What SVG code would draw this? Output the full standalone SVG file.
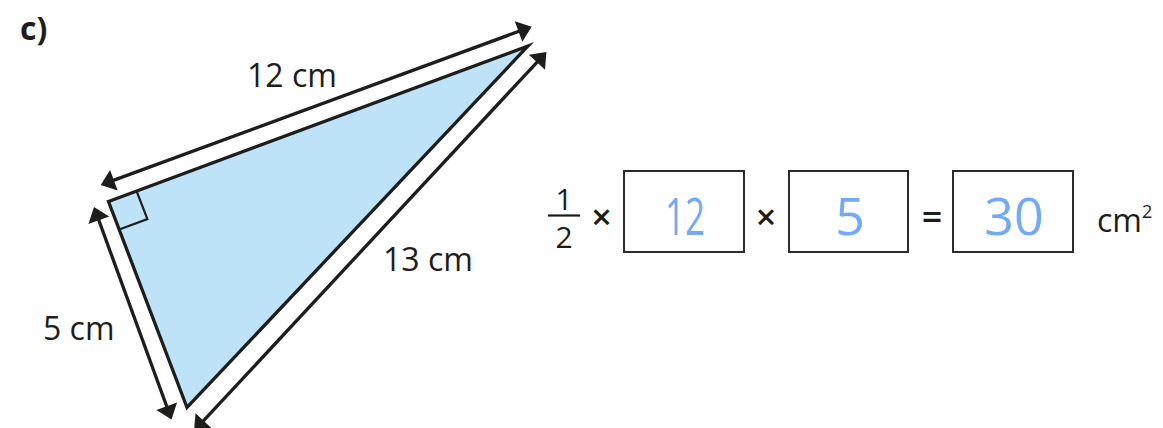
<svg xmlns="http://www.w3.org/2000/svg" width="1163" height="428" viewBox="0 0 1163 428">
<defs>
<style>
.lbl{font-family:"Open Sans","Noto Sans","DejaVu Sans",sans-serif;font-size:32px;fill:#1d1d1b}
.hand{font-family:"Open Sans","Noto Sans",sans-serif;font-size:52px;fill:#73aaf3;text-anchor:middle}
.dim{stroke:#1d1d1b;stroke-width:3.3;fill:none;marker-start:url(#ah);marker-end:url(#ah)}
.box{fill:#ffffff;stroke:#2b2b2b;stroke-width:2}
.op{font-family:"Open Sans","Noto Sans",sans-serif;font-size:30px;fill:#1d1d1b;text-anchor:middle}
.sym{font-family:"Open Sans","Noto Sans",sans-serif;font-size:36px;font-weight:600;fill:#1d1d1b;text-anchor:middle}
</style>
<marker id="ah" markerUnits="userSpaceOnUse" markerWidth="32" markerHeight="32" viewBox="-16 -16 32 32" refX="0" refY="0" orient="auto-start-reverse">
<path d="M12,0 L-2,-11 L-2,11 Z" fill="#1d1d1b"/>
</marker>
</defs>
<rect width="1163" height="428" fill="#ffffff"/>
<g id="title"><text x="20" y="40" font-family="'Open Sans','Noto Sans',sans-serif" font-weight="bold" font-size="32" fill="#1d1d1b">c)</text></g>
<g id="triangle">
<polygon points="108.5,201.5 528,46 187,407.5" fill="#bee3f8" stroke="#1d1d1b" stroke-width="3.3" stroke-linejoin="miter" stroke-miterlimit="10"/>
<polyline points="136.6,191.1 147.4,219.1 119.2,229.5" fill="none" stroke="#1d1d1b" stroke-width="2.2"/>
</g>
<g id="connectors">
<path class="dim" d="M112,180.9 L520.4,30.8"/>
<path class="dim" d="M98.1,218.3 L167.4,408.2"/>
<path class="dim" d="M538.3,60.8 L202.2,422.2"/>
</g>
<g id="labels">
<text class="lbl" x="247" y="87">12 cm</text>
<text class="lbl" x="383" y="271">13 cm</text>
<text class="lbl" x="43" y="340">5 cm</text>
</g>
<g id="equation">
<text class="op" x="564" y="210">1</text>
<line x1="548" y1="215.5" x2="580" y2="215.5" stroke="#1d1d1b" stroke-width="2.2"/>
<text class="op" x="564" y="248">2</text>
<text class="sym" x="601.5" y="230">×</text>
<rect class="box" x="624" y="171" width="120" height="81"/>
<text class="hand" x="685" y="235" textLength="40" lengthAdjust="spacingAndGlyphs">12</text>
<text class="sym" x="766" y="230">×</text>
<rect class="box" x="789" y="171" width="119" height="81"/>
<text class="hand" x="850" y="235">5</text>
<text class="sym" x="932" y="230">=</text>
<rect class="box" x="953" y="171" width="120" height="81"/>
<text class="hand" x="1014" y="235">30</text>
<text class="lbl" x="1097" y="232">cm<tspan font-size="18" dy="-14">2</tspan></text>
</g>
</svg>
